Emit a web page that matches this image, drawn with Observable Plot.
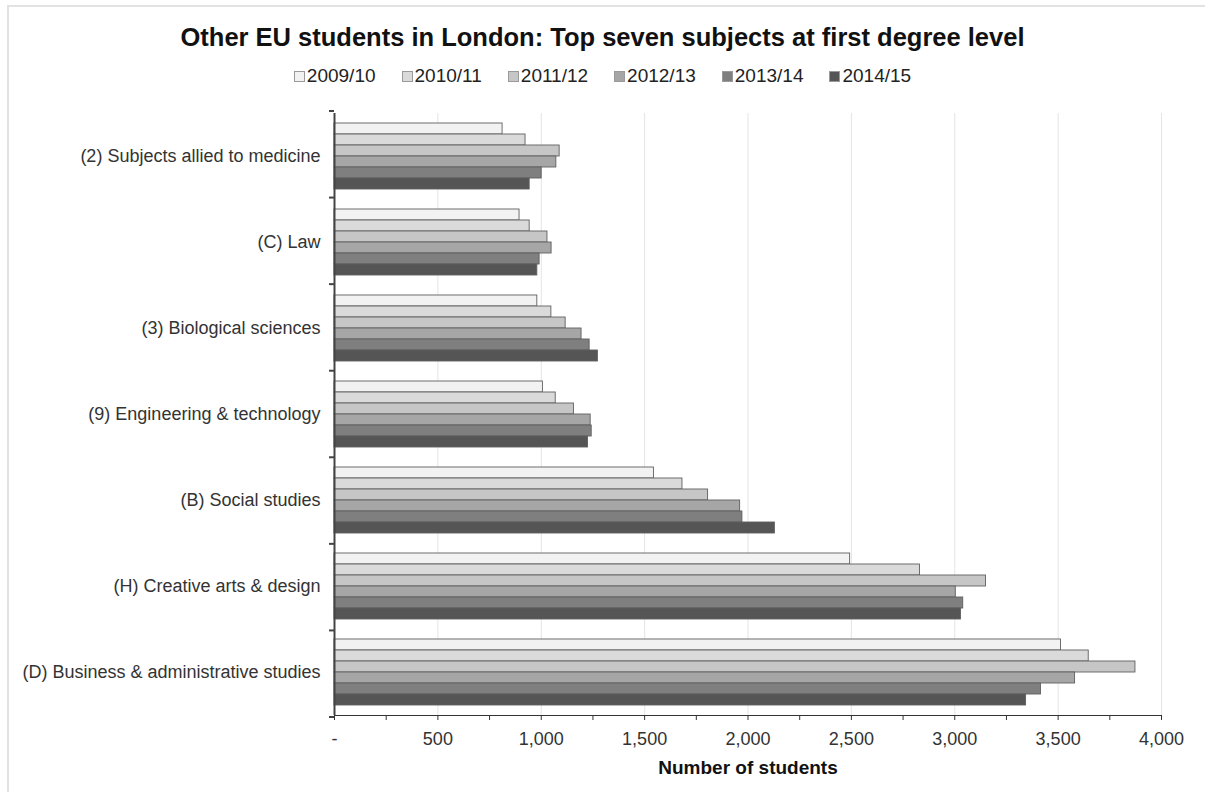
<!DOCTYPE html>
<html>
<head>
<meta charset="utf-8">
<script src="https://cdn.jsdelivr.net/npm/d3@7"></script>
<script src="https://cdn.jsdelivr.net/npm/@observablehq/plot@0.6"></script>
<style>
  html, body { margin: 0; padding: 0; background: #fff; }
  body { width: 1205px; height: 792px; position: relative; overflow: hidden; font-family: "Liberation Sans", Arial, sans-serif; }
  #frame { position: absolute; left: 7px; top: 5px; width: 1300px; height: 900px; border-left: 2px solid #e2e2e2; border-top: 2px solid #e2e2e2; }
  #title { position: absolute; left: 0; top: 23px; width: 1205px; text-align: center; font-weight: bold; font-size: 25.5px; color: #111; }
  #legend { position: absolute; left: 0; top: 65px; width: 1205px; display: flex; justify-content: center; gap: 26px; font-size: 19px; color: #222; }
  #legend .item { display: flex; align-items: center; gap: 2px; }
  #legend .sw { width: 9px; height: 9px; border: 1px solid #9a9a9a; }
  #chart { position: absolute; left: 0; top: 95px; }
</style>
</head>
<body>
<div id="frame"></div>
<div id="title">Other EU students in London: Top seven subjects at first degree level</div>
<div id="legend"></div>
<div id="chart"></div>
<script>
const subjects = [
  "(2) Subjects allied to medicine",
  "(C) Law",
  "(3) Biological sciences",
  "(9) Engineering & technology",
  "(B) Social studies",
  "(H) Creative arts & design",
  "(D) Business & administrative studies"
];
const years = ["2009/10", "2010/11", "2011/12", "2012/13", "2013/14", "2014/15"];
const v2009 = [813, 895, 981, 1008, 1545, 2494, 3514];
const v2010 = [924, 944, 1049, 1070, 1683, 2832, 3648];
const v2011 = [1089, 1030, 1118, 1158, 1807, 3151, 3874];
const v2012 = [1073, 1050, 1195, 1239, 1962, 3005, 3582];
const v2013 = [1002, 992, 1234, 1244, 1973, 3041, 3417];
const v2014 = [944, 981, 1274, 1226, 2130, 3030, 3345];
const seriesValues = [v2009, v2010, v2011, v2012, v2013, v2014];
const colors = ["#f2f2f2", "#dadada", "#c6c6c6", "#a6a6a6", "#7f7f7f", "#555555"];
const xTicks = d3.range(0, 4001, 250);
const gridValues = d3.range(500, 4001, 500);
const xTitle = "Number of students";

const rows = [];
subjects.forEach((s, i) => {
  years.forEach((y, j) => rows.push({subject: s, year: y, value: seriesValues[j][i]}));
});

// legend
const legend = document.getElementById("legend");
years.forEach((y, j) => {
  const it = document.createElement("div");
  it.className = "item";
  const sw = document.createElement("div");
  sw.className = "sw";
  sw.style.background = colors[j];
  const t = document.createElement("span");
  t.textContent = y;
  it.appendChild(sw); it.appendChild(t);
  legend.appendChild(it);
});

const fmt = d3.format(",");
const chart = Plot.plot({
  width: 1205,
  height: 697,
  marginLeft: 334,
  marginRight: 44,
  marginTop: 16,
  marginBottom: 75,
  style: {fontFamily: "'Liberation Sans', Arial, sans-serif", fontSize: "18px", color: "#333", background: "transparent"},
  facet: {data: rows, y: "subject"},
  fy: {domain: subjects, axis: "left", label: null, tickSize: 0, tickPadding: 14, padding: 0},
  y: {domain: years, axis: null, paddingInner: 0, paddingOuter: 0.86},
  x: {
    domain: [0, 4000],
    ticks: xTicks,
    tickFormat: d => d === 0 ? "-" : (d % 500 === 0 ? fmt(d) : ""),
    tickSize: 5,
    tickPadding: 12,
    line: true,
    label: xTitle,
    labelArrow: false,
    labelAnchor: "center",
    labelOffset: 58
  },
  color: {domain: years, range: colors},
  marks: [
    Plot.ruleX(gridValues, {stroke: "#e4e4e4", strokeWidth: 1}),
    Plot.barX(rows, {x: "value", y: "year", fill: "year", stroke: "#5f5f5f", strokeWidth: 0.9, insetTop: 0, insetBottom: 0}),
    Plot.ruleX([0], {stroke: "#444", strokeWidth: 2})
  ]
});

// small ticks on the category axis at group boundaries
try {
  const fy = chart.scale("fy");
  const xs = chart.scale("x");
  const x0 = xs.range[0];
  const r0 = fy.range[0], r1 = fy.range[1];
  const n = fy.domain.length;
  const step = (r1 - r0) / n;
  const svg = d3.select(chart);
  const g = svg.append("g").attr("stroke", "#444").attr("stroke-width", 2);
  for (let i = 0; i <= n; i++) {
    const yy = r0 + i * step;
    g.append("line").attr("x1", x0 - 5).attr("x2", x0).attr("y1", yy).attr("y2", yy);
  }
} catch (e) { console.error(e); }

const svgSel = d3.select(chart);
svgSel.selectAll("[aria-label='x-axis'] path, [aria-label='x-axis'] line").attr("stroke", "#444");
svgSel.selectAll("text").each(function() {
  const t = d3.select(this);
  const s = t.text();
  if (s.indexOf(xTitle) >= 0) {
    t.text(xTitle).style("font-weight", "bold").style("font-size", "19px").attr("fill", "#111");
  }
});
document.getElementById("chart").appendChild(chart);
</script>
</body>
</html>
